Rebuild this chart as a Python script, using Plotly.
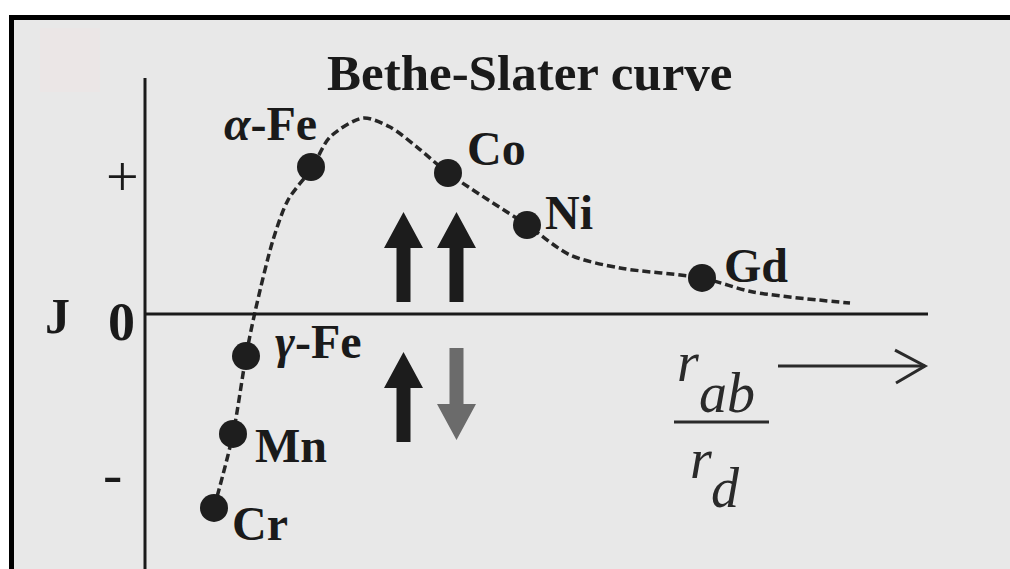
import plotly.graph_objects as go

# ---------------- data (arbitrary units: x = r_ab/r_d, y = exchange integral J) ----------------
elements = ["Cr", "Mn", "γ-Fe", "α-Fe", "Co", "Ni", "Gd"]
elem_x = [0.69, 0.88, 1.01, 1.66, 3.03, 3.82, 5.57]
elem_y = [-1.426, -0.882, -0.309, 1.081, 1.037, 0.654, 0.265]

curve_x = [0.69, 0.88, 1.01, 1.10, 1.28, 1.43, 1.67, 1.85, 2.18, 2.45, 2.72, 3.03,
           3.82, 4.25, 4.75, 5.57, 6.08, 7.05]
curve_y = [-1.426, -0.882, -0.309, 0.015, 0.544, 0.838, 1.074, 1.301, 1.441, 1.375, 1.228, 1.037,
           0.654, 0.434, 0.338, 0.265, 0.162, 0.081]

tick_vals = [1.0, 0.0, -1.2]
tick_text = ["+", "<b>0</b>", "-"]

# spin pairs: x, tail y, tip y, colour
spin_x = [2.585, 3.115, 2.585, 3.115]
spin_tail = [0.088, 0.088, -0.941, -0.25]
spin_tip = [0.75, 0.75, -0.279, -0.926]
spin_col = ["#1c1c1c", "#1c1c1c", "#1c1c1c", "#6b6b6b"]

# ---------------- figure ----------------
W, H = 1010, 569
XR = [-1.45, 8.65]
YR = [-1.875, 2.309]
SERIF = "Liberation Serif, Times New Roman, serif"

fig = go.Figure()

fig.add_trace(go.Scatter(
    x=curve_x, y=curve_y, mode="lines",
    line=dict(color="#262626", width=3.5, dash="8px,4px", shape="spline", smoothing=0.8),
    hoverinfo="skip", showlegend=False))

fig.add_trace(go.Scatter(
    x=elem_x, y=elem_y, mode="markers", text=elements,
    marker=dict(size=28, color="#1e1e1e"),
    showlegend=False))

shapes = []
# background panel and frame (paper coords)
shapes.append(dict(type="rect", xref="paper", yref="paper", x0=14 / W, x1=1, y0=0, y1=1 - 20 / H,
                   fillcolor="#e8e8e8", line=dict(width=0), layer="below"))
shapes.append(dict(type="rect", xref="paper", yref="paper", x0=40 / W, x1=100 / W,
                   y0=1 - 92 / H, y1=1 - 28 / H,
                   fillcolor="#ebe6e6", line=dict(width=0), layer="below"))
shapes.append(dict(type="line", xref="paper", yref="paper", x0=9 / W, x1=1,
                   y0=1 - 17.5 / H, y1=1 - 17.5 / H, line=dict(color="#000", width=5)))
shapes.append(dict(type="line", xref="paper", yref="paper", x0=11.5 / W, x1=11.5 / W,
                   y0=0, y1=1 - 15 / H, line=dict(color="#000", width=5)))
# axes
shapes.append(dict(type="line", x0=0, x1=0, y0=YR[0], y1=1.735, line=dict(color="#1a1a1a", width=3)))
shapes.append(dict(type="line", x0=0, x1=7.83, y0=0, y1=0, line=dict(color="#1a1a1a", width=3)))
# fraction bar and direction arrow for r_ab / r_d
shapes.append(dict(type="line", x0=5.29, x1=6.24, y0=-0.794, y1=-0.794, line=dict(color="#2a2a2a", width=3)))
shapes.append(dict(type="line", x0=6.33, x1=7.80, y0=-0.382, y1=-0.382, line=dict(color="#2a2a2a", width=3)))
shapes.append(dict(type="path", path="M 7.50 -0.265 L 7.80 -0.382 L 7.51 -0.507",
                   line=dict(color="#2a2a2a", width=3)))

# spin arrows (block arrows)
HEAD_L = 0.265
HEAD_W = 0.195
SHAFT_W = 0.07
for sx, t0, t1, col in zip(spin_x, spin_tail, spin_tip, spin_col):
    d = 1 if t1 > t0 else -1
    hb = t1 - d * HEAD_L
    path = (f"M {sx - SHAFT_W} {t0} L {sx - SHAFT_W} {hb} L {sx - HEAD_W} {hb} L {sx} {t1} "
            f"L {sx + HEAD_W} {hb} L {sx + SHAFT_W} {hb} L {sx + SHAFT_W} {t0} Z")
    shapes.append(dict(type="path", path=path, fillcolor=col, line=dict(color=col, width=0)))

ann = []
def add_text(x, y, text, size, xanchor="left", style="normal", color="#1a1a1a", yshift=0,
             family=SERIF):
    ann.append(dict(x=x, y=y, text=text, showarrow=False, xanchor=xanchor, yanchor="middle",
                    yshift=yshift,
                    font=dict(family=family, size=size, color=color, style=style)))

add_text(3.85, 1.772, "<b>Bethe-Slater curve</b>", 51, xanchor="center")

label_pos = {
    "α-Fe": (0.77, 1.40, "<b><i>α</i>-Fe</b>"),
    "Co": (3.20, 1.22, "<b>Co</b>"),
    "Ni": (3.98, 0.745, "<b>Ni</b>"),
    "Gd": (5.77, 0.36, "<b>Gd</b>"),
    "γ-Fe": (1.28, -0.203, "<b><i>γ</i>-Fe</b>"),
    "Mn": (1.08, -0.965, "<b>Mn</b>"),
    "Cr": (0.85, -1.54, "<b>Cr</b>"),
}
for name in elements:
    lx, ly, txt = label_pos[name]
    add_text(lx, ly, txt, 48)

# J axis ticks
add_text(-0.225, tick_vals[0], tick_text[0], 58, xanchor="center", yshift=2)
add_text(-0.24, tick_vals[1], tick_text[1], 54, xanchor="center", yshift=-8)
add_text(-0.325, tick_vals[2], tick_text[2], 58, xanchor="center", yshift=4)
add_text(-0.88, -0.015, "<b>J</b>", 50, xanchor="center")

# x-axis quantity r_ab / r_d
ITAL = "Liberation Serif"
add_text(5.43, -0.353, "<i>r</i>", 56, xanchor="center", color="#2a2a2a", family=ITAL)
add_text(5.82, -0.581, "<i>ab</i>", 56, xanchor="center", color="#2a2a2a", family=ITAL)
add_text(5.56, -1.066, "<i>r</i>", 56, xanchor="center", color="#2a2a2a", family=ITAL)
add_text(5.80, -1.279, "<i>d</i>", 56, xanchor="center", color="#2a2a2a", family=ITAL)

fig.update_layout(
    width=W, height=H, margin=dict(l=0, r=0, t=0, b=0),
    paper_bgcolor="white", plot_bgcolor="rgba(0,0,0,0)",
    xaxis=dict(range=XR, visible=False, fixedrange=True),
    yaxis=dict(range=YR, visible=False, fixedrange=True),
    shapes=shapes, annotations=ann, showlegend=False,
)

fig.write_html("out.html", config={"displayModeBar": False},
               post_script="document.body.style.margin='0';document.body.style.padding='0';")
